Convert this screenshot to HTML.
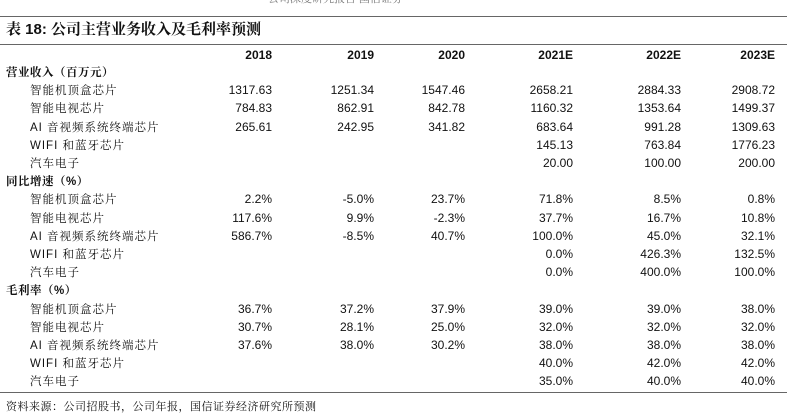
<!DOCTYPE html>
<html><head><meta charset="utf-8"><style>
body{margin:0;width:787px;height:413px;background:#fff;position:relative;overflow:hidden;font-family:"Liberation Sans","Noto Serif CJK SC",serif;color:#111}
.a{position:absolute;white-space:nowrap;line-height:1}
.l{position:absolute;left:0;width:787px;background:#666}
.n{font-size:12px;text-align:right;width:100px}
.h{font-weight:bold;font-size:12px;text-align:right;width:100px}
.c{font-family:"Liberation Sans","Noto Serif CJK SC",serif;font-size:11.5px;letter-spacing:1px}
</style></head><body>
<div class="a" style="left:268px;top:-7px;font-size:11px;color:#777;font-family:'Noto Serif CJK SC',serif">公司深度研究报告 国信证券</div>
<div class="l" style="top:16px;height:1px"></div>
<div class="a" style="left:6px;top:22px;font-size:15px;font-weight:bold;font-family:'Liberation Sans','Noto Serif CJK SC',serif">表 18: 公司主营业务收入及毛利率预测</div>
<div class="l" style="top:44px;height:1px"></div>
<div id="t"></div>
<div class="l" style="top:392px;height:1px"></div>
<div class="a c" style="left:6px;top:402px;font-size:11px;letter-spacing:0.5px">资料来源：公司招股书，公司年报，国信证券经济研究所预测</div>
<script>
const cols=["2018","2019","2020","2021E","2022E","2023E"];
const colRight=[272,374,465,573,681,775];
const rows=[
["h","营业收入（百万元）"],
["d","智能机顶盒芯片","1317.63","1251.34","1547.46","2658.21","2884.33","2908.72"],
["d","智能电视芯片","784.83","862.91","842.78","1160.32","1353.64","1499.37"],
["d","AI 音视频系统终端芯片","265.61","242.95","341.82","683.64","991.28","1309.63"],
["d","WIFI 和蓝牙芯片","","","","145.13","763.84","1776.23"],
["d","汽车电子","","","","20.00","100.00","200.00"],
["h","同比增速（%）"],
["d","智能机顶盒芯片","2.2%","-5.0%","23.7%","71.8%","8.5%","0.8%"],
["d","智能电视芯片","117.6%","9.9%","-2.3%","37.7%","16.7%","10.8%"],
["d","AI 音视频系统终端芯片","586.7%","-8.5%","40.7%","100.0%","45.0%","32.1%"],
["d","WIFI 和蓝牙芯片","","","","0.0%","426.3%","132.5%"],
["d","汽车电子","","","","0.0%","400.0%","100.0%"],
["h","毛利率（%）"],
["d","智能机顶盒芯片","36.7%","37.2%","37.9%","39.0%","39.0%","38.0%"],
["d","智能电视芯片","30.7%","28.1%","25.0%","32.0%","32.0%","32.0%"],
["d","AI 音视频系统终端芯片","37.6%","38.0%","30.2%","38.0%","38.0%","38.0%"],
["d","WIFI 和蓝牙芯片","","","","40.0%","42.0%","42.0%"],
["d","汽车电子","","","","35.0%","40.0%","40.0%"]
];
const t=document.getElementById('t');
function mk(cls,txt,x,y,st){const e=document.createElement('div');e.className='a '+cls;e.textContent=txt;e.style.left=x+'px';e.style.top=y+'px';if(st)e.style.cssText+=st;t.appendChild(e);return e;}
cols.forEach((c,i)=>{const e=mk('h',c,colRight[i]-100,49);

});
rows.forEach((r,ri)=>{const cy=72+ri*18.2;
if(r[0]==='h'){const e=mk('c',r[1],6,cy-4,'font-weight:bold;letter-spacing:0.5px');

}
else{const e=mk('c',r[1],30,cy-4);


for(let i=0;i<6;i++){if(!r[i+2])continue;const v=mk('n',r[i+2],colRight[i]-100,cy-6);

}}});
</script>
</body></html>
